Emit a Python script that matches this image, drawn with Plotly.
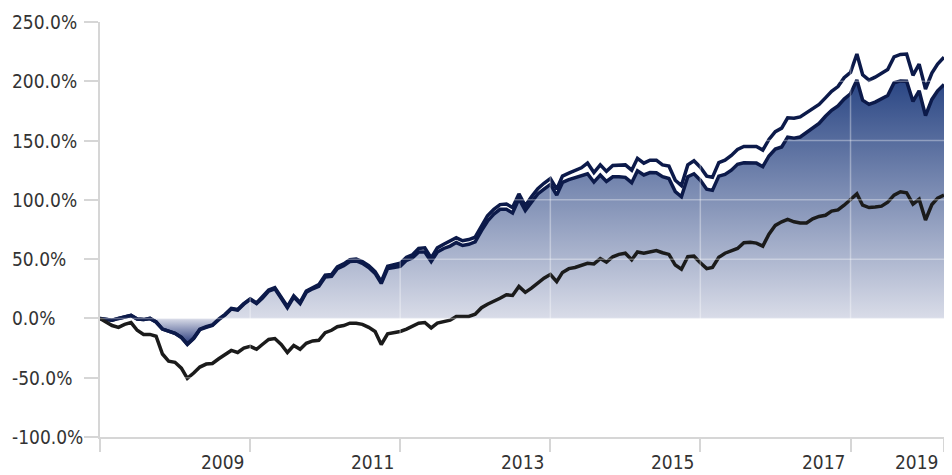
import plotly.graph_objects as go
import pandas as pd

# Monthly observation dates
dates = pd.date_range("2007-01-01", periods=136, freq="MS")

# Cumulative return (%) - upper series
upper = [0, -1, -1.5, 0, 1.5, 2.5, -0.5, -1, 0, -3, -9, -11, -12.5, -16, -21.5, -16.5,
         -9, -7, -5.5, -0.5, 3.5, 8.5, 7.5, 12.5, 16.5, 13, 18, 24, 26, 18, 10, 19,
         13.5, 23, 26, 28.5, 36.5, 37, 43.5, 46, 49.5, 50, 48, 44.5, 39.5, 31, 44, 45,
         46.5, 51.5, 53.5, 59, 59.5, 51, 59.5, 62.5, 65, 68, 65.5, 66.5, 68.5, 78.5, 86.5, 92,
         96, 96.5, 93.5, 105, 95, 102.5, 109.5, 114, 118, 109, 120, 122.5, 124.5, 127, 131, 123,
         129.5, 124, 129, 129.5, 129.5, 125, 135, 131, 133.5, 133.5, 129.5, 128.5, 116.5, 112, 129.5, 133,
         127.5, 120, 119, 131.5, 133.5, 137.5, 142.5, 145, 145.3, 145, 142, 151, 157.5, 160.5, 169.2, 168.8,
         170, 173.5, 176.5, 180.5, 186, 191.5, 195.5, 203, 207.5, 223, 205.5, 201, 203.5, 206.5, 210, 220.5,
         222.6, 223, 205, 214.5, 193.5, 207, 214.5, 220.3]

# Cumulative return (%) - filled series
fund = [0, -1, -1.5, 0, 1.5, 2.5, -0.5, -1, 0, -3, -9, -11, -12.6, -16, -22, -17,
        -9.5, -7.5, -6, -1, 3, 8, 7, 12, 16, 12.5, 17, 23, 25, 17, 9, 18,
        12.6, 22, 25, 27, 35, 35.5, 42, 44.5, 48, 48.5, 46.5, 43, 38, 29.5, 42, 43,
        44, 49, 51, 56, 56, 48, 56, 59, 61, 64, 61.5, 62.5, 64.5, 74, 82, 88,
        92, 92, 89, 101, 91, 98, 105, 109, 113, 104, 114.7, 117, 118.5, 120.5, 122, 115,
        121, 115.5, 119.5, 119.5, 119, 114.5, 124.5, 121, 123, 122.8, 119.5, 118, 107, 102.6, 119.5, 122,
        116.6, 109, 108, 120, 121.5, 125, 130, 131.3, 131.3, 131, 128, 137, 142.8, 144.6, 152.9, 152,
        153, 156.8, 160, 164.5, 170.5, 175.5, 179.3, 185, 189.5, 201, 184, 180.5, 182.5, 185, 188, 198.8,
        200.3, 200, 183, 192, 171, 184.7, 192, 197.3]

# Cumulative return (%) - benchmark
bench = [0, -3, -6, -7.5, -5, -3.5, -10, -13.5, -13.5, -15, -30, -36, -37, -42, -50.5, -46,
         -41, -38.5, -38, -34, -30, -27, -28.7, -25, -23.6, -26, -22, -17.7, -17, -22, -28.7, -22.8,
         -26, -21, -19, -18.5, -12, -10, -7, -6, -4, -4, -5, -7.5, -11, -22, -13, -12.3,
         -11, -9, -7, -4, -3.4, -8, -4, -3, -1.5, 1.7, 1.7, 1.7, 3.5, 9, 12, 14.3,
         17, 20, 19.4, 27, 22, 25.5, 30, 34, 37, 31, 38.8, 42, 43, 44.5, 46.5, 46,
         50.5, 47.5, 52, 54, 55, 49.5, 56, 55, 56, 57.3, 55.4, 54, 45, 41.5, 52, 52.5,
         47, 42, 43, 51.5, 55, 57, 59, 63.8, 64.2, 63.5, 61, 71, 78.5, 81.5, 83.5, 81.5,
         80.5, 80.5, 84, 86, 87, 90.5, 91.5, 95.5, 100.3, 105, 95.5, 93.5, 94, 94.7, 98, 104,
         106.8, 106, 96.5, 100.5, 83, 96.1, 101.5, 104]

# Axis ticks
x_tick_dates = ["2007-01-01", "2009-01-01", "2011-01-01", "2013-01-01",
                "2015-01-01", "2017-01-01", "2018-04-01"]
x_tick_text = ["", "2009", "2011", "2013", "2015", "2017", "2019"]
y_tick_vals = [-100, -50, 0, 50, 100, 150, 200, 250]
y_tick_text = ["-100.0%", "-50.0%", "0.0%", "50.0%", "100.0%", "150.0%", "200.0%", "250.0%"]

NAVY = "#0c1a4a"
BLACK = "#1b1b1b"
TEXT = "#333333"
FONT = "DejaVu Sans Condensed, DejaVu Sans, sans-serif"

fmin, fmax = min(fund), max(fund)
zero_pos = (0 - fmin) / (fmax - fmin)

fig = go.Figure()

fig.add_trace(go.Scatter(
    x=dates, y=fund, mode="lines",
    line=dict(color=NAVY, width=3.5),
    fill="tozeroy",
    fillgradient=dict(
        type="vertical",
        start=fmin, stop=fmax,
        colorscale=[[0, "#24367a"], [zero_pos, "#d9dce8"], [1, "#2a4684"]],
    ),
    hoverinfo="skip", showlegend=False,
))
fig.add_trace(go.Scatter(
    x=dates, y=upper, mode="lines",
    line=dict(color=NAVY, width=3.5),
    hoverinfo="skip", showlegend=False,
))
fig.add_trace(go.Scatter(
    x=dates, y=bench, mode="lines",
    line=dict(color=BLACK, width=3.5),
    hoverinfo="skip", showlegend=False,
))

# light gridlines drawn over the fill (white on white elsewhere)
shapes = []
for yv in y_tick_vals[1:]:
    shapes.append(dict(type="line", xref="paper", yref="y", x0=0, x1=1, y0=yv, y1=yv,
                       line=dict(color="rgba(255,255,255,0.35)", width=1.5), layer="above"))
for xv in x_tick_dates[1:-1]:
    shapes.append(dict(type="line", xref="x", yref="paper", x0=xv, x1=xv, y0=0, y1=1,
                       line=dict(color="rgba(255,255,255,0.35)", width=1.5), layer="above"))

# tick labels as annotations: y labels left-aligned, x labels set left of their tick
annotations = []
for yv, yt in zip(y_tick_vals, y_tick_text):
    annotations.append(dict(text=yt, xref="paper", x=0, xanchor="left", xshift=-90,
                            yref="y", y=yv, yanchor="middle", showarrow=False,
                            font=dict(family=FONT, size=19, color=TEXT)))
for xv, xt in zip(x_tick_dates, x_tick_text):
    if xt:
        annotations.append(dict(text=xt, xref="x", x=xv, xanchor="center", xshift=-27,
                                yref="paper", y=0, yanchor="top", yshift=-12, showarrow=False,
                                font=dict(family=FONT, size=19, color=TEXT)))

# page body has an 8px default margin, so the figure is sized to fit the window
fig.update_layout(
    width=944, height=467,
    margin=dict(l=92, r=8, t=14, b=38),
    paper_bgcolor="white", plot_bgcolor="white",
    font=dict(family=FONT, size=19, color=TEXT),
    hovermode=False,
    shapes=shapes,
    annotations=annotations,
    xaxis=dict(
        range=[dates[0], dates[-1]],
        tickmode="array", tickvals=x_tick_dates, ticktext=x_tick_text,
        ticks="outside", ticklen=13, tickwidth=2, tickcolor="#d6d6d6",
        showline=True, linecolor="#d6d6d6", linewidth=2,
        showgrid=False, zeroline=False, automargin=False,
        showticklabels=False,
    ),
    yaxis=dict(
        range=[-100, 250],
        tickmode="array", tickvals=y_tick_vals, ticktext=y_tick_text,
        ticks="outside", ticklen=14, tickwidth=2, tickcolor="#d6d6d6",
        showline=True, linecolor="#d6d6d6", linewidth=2,
        showgrid=False, zeroline=False, automargin=False,
        showticklabels=False,
    ),
)

fig.write_html("out.html")
